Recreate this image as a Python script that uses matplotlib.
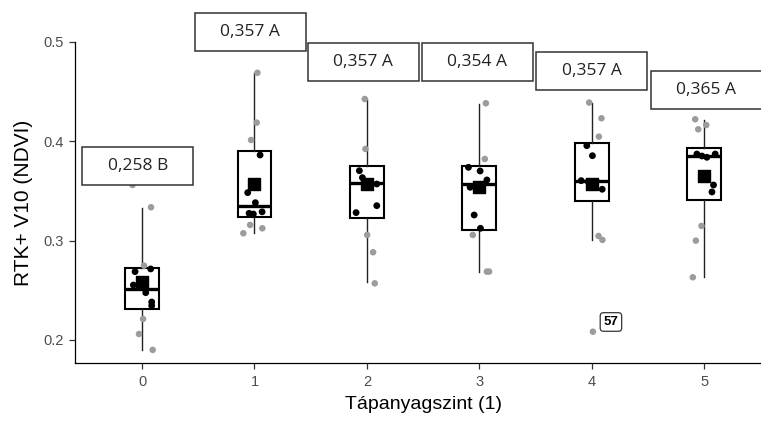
import matplotlib
matplotlib.use("Agg")
import matplotlib.pyplot as plt
from matplotlib.patches import Rectangle
import numpy as np

# ---- data ----
levels = [0, 1, 2, 3, 4, 5]
q1 = [0.2312, 0.3241, 0.3225, 0.3107, 0.3400, 0.3409]
med = [0.2513, 0.3349, 0.3578, 0.3570, 0.3604, 0.3852]
q3 = [0.2728, 0.3906, 0.3755, 0.3755, 0.3980, 0.3933]
whis_lo = [0.1900, 0.3074, 0.2580, 0.2688, 0.3007, 0.2631]
whis_hi = [0.3332, 0.4690, 0.4426, 0.4376, 0.4383, 0.4215]
means = [0.258, 0.357, 0.357, 0.354, 0.357, 0.365]
mean_labels = ["0,258 B", "0,357 A", "0,357 A", "0,354 A", "0,357 A", "0,365 A"]

# individual plots (jitter offset, value) per level
pts_jit = [
    [-0.062, 0.077, -0.077, 0.033, 0.086, 0.086, 0.018, 0.080, 0.009, -0.027, 0.095, -0.085],
    [0.026, 0.020, -0.030, 0.050, -0.060, 0.008, -0.048, -0.010, 0.068, -0.039, -0.099, 0.070],
    [-0.019, -0.013, -0.067, -0.040, 0.088, -0.096, 0.088, 0.002, 0.055, 0.070, 0.011, -0.016],
    [0.058, 0.049, -0.097, 0.007, 0.067, -0.082, -0.046, 0.010, -0.058, 0.067, 0.087, -0.022],
    [-0.023, 0.086, 0.063, -0.044, 0.006, -0.094, 0.093, 0.060, 0.095, 0.010, -0.032, 0.030],
    [-0.080, -0.053, 0.018, -0.065, 0.024, 0.098, 0.083, 0.069, -0.024, -0.074, -0.101, -0.020],
]
pts_val = [
    [0.2688, 0.2715, 0.2553, 0.2476, 0.2382, 0.2345, 0.2748, 0.3336, 0.2211, 0.2060, 0.1900, 0.3560],
    [0.4690, 0.4188, 0.4013, 0.3862, 0.3483, 0.3382, 0.3275, 0.3268, 0.3290, 0.3158, 0.3074, 0.3124],
    [0.4426, 0.3923, 0.3704, 0.3634, 0.3570, 0.3282, 0.3352, 0.3057, 0.2883, 0.2570, 0.3594, 0.3550],
    [0.4383, 0.3822, 0.3738, 0.3701, 0.3611, 0.3537, 0.3258, 0.3124, 0.3057, 0.2688, 0.2688, 0.3560],
    [0.4390, 0.4232, 0.4047, 0.3956, 0.3855, 0.3604, 0.3517, 0.3047, 0.3007, 0.2083, 0.3594, 0.3560],
    [0.4222, 0.4121, 0.4164, 0.3872, 0.3839, 0.3872, 0.3560, 0.3490, 0.3148, 0.3000, 0.2631, 0.3852],
]
outlier_id = (4, 9, "57")

# label box layout (data coords)
lab_x = [-0.038, 0.961, 1.966, 2.980, 4.000, 5.020]
lab_y = [0.3752, 0.5100, 0.4799, 0.4799, 0.4708, 0.4512]

# ---- figure ----
fig = plt.figure(figsize=(7.61, 4.21), dpi=100)
ax = fig.add_axes([0.098, 0.1378, 0.916, 0.7625])

stats = [dict(med=med[i], q1=q1[i], q3=q3[i], whislo=whis_lo[i], whishi=whis_hi[i],
              fliers=[]) for i in range(len(levels))]
ax.bxp(stats, positions=levels, widths=0.30, showcaps=False, patch_artist=True,
       boxprops=dict(facecolor="white", edgecolor="black", linewidth=1.5),
       medianprops=dict(color="black", linewidth=2.4),
       whiskerprops=dict(color="#222222", linewidth=1.0), zorder=2)

for i, lv in enumerate(levels):
    x = lv + np.array(pts_jit[i])
    y = np.array(pts_val[i])
    inside = (y >= q1[i] - 0.001) & (y <= q3[i] + 0.001)
    ax.scatter(x[~inside], y[~inside], s=22, color="#9c9c9c", edgecolors="none", zorder=3)
    ax.scatter(x[inside], y[inside], s=24, color="black", edgecolors="none", zorder=4)

ax.scatter(levels, means, marker="s", s=75, color="black", zorder=5)

# id label for the outlier
gi, pi, txt = outlier_id
ax.annotate(txt, (levels[gi] + pts_jit[gi][pi], pts_val[gi][pi]), xytext=(13, 7),
            textcoords="offset points", ha="center", va="center", fontsize=9.5,
            fontweight="bold", family="Liberation Sans",
            bbox=dict(boxstyle="round,pad=0.25", fc="white", ec="#333333", lw=0.9))

# mean label boxes
bw, bh = 0.988, 0.0383
for i in range(len(levels)):
    ax.add_patch(Rectangle((lab_x[i] - bw / 2, lab_y[i] - bh / 2), bw, bh,
                           facecolor="white", edgecolor="#333333", linewidth=1.1,
                           clip_on=False, zorder=6))
    ax.text(lab_x[i], lab_y[i], mean_labels[i], ha="center", va="center",
            fontsize=12.5, family="Open Sans", color="#222222", zorder=7, clip_on=False)

ax.set_xlim(-0.6, 5.6)
ax.set_ylim(0.1768, 0.5)
ax.set_xticks(levels)
ax.set_yticks([0.2, 0.3, 0.4, 0.5])
ax.set_yticklabels(["0.2", "0.3", "0.4", "0.5"])
for s in ["top", "right"]:
    ax.spines[s].set_visible(False)
for s in ["left", "bottom"]:
    ax.spines[s].set_linewidth(0.9)
ax.tick_params(length=4, width=0.9, color="#333333", labelsize=10.5,
               labelcolor="#4d4d4d")
ax.tick_params(axis="x", pad=5)
for t in ax.get_xticklabels() + ax.get_yticklabels():
    t.set_family("Liberation Sans")

ax.set_xlabel("Tápanyagszint (1)", fontsize=14, family="Liberation Sans", labelpad=5)
ax.set_ylabel("RTK+ V10 (NDVI)", fontsize=15, family="Liberation Sans", labelpad=8)

fig.savefig("out.png", dpi=100)
